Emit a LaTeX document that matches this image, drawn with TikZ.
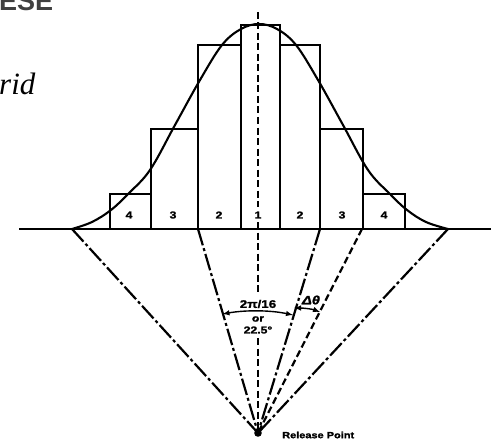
\documentclass[tikz,border=0pt]{standalone}
\usepackage{fontspec}
\setmainfont{Liberation Serif}
\setsansfont{Liberation Sans}
\newfontfamily\widefont[FakeStretch=1.22,FakeBold=1.5,BoldFont={Liberation Sans Bold},ItalicFont={Liberation Sans Bold Italic}]{Liberation Sans Bold}
\begin{document}
\begin{tikzpicture}[x=1pt,y=-1pt,
  bar/.style={line width=2pt,line join=miter},
  base/.style={line width=1.6pt},
  bell/.style={line width=2.1pt},
  dashdot/.style={line width=2.2pt,dash pattern=on 17pt off 3pt on 3pt off 3pt},
  dashline/.style={line width=2.2pt,dash pattern=on 7pt off 3.5pt},
  meas/.style={line width=1.4pt,<->,>=latex},
  num/.style={font=\widefont\fontsize{10}{11}\selectfont,inner sep=0pt},
  lab/.style={font=\widefont\fontsize{10}{12}\selectfont,inner sep=0pt}]
\useasboundingbox (0,0) rectangle (492,441);
\fill[white] (0,0) rectangle (492,441);
% clipped headings
\node[font=\sffamily\bfseries\fontsize{27}{27}\selectfont,text=black!75,inner sep=0pt,anchor=base west] (head) at (-1,10.5) {ESE};
\node[font=\itshape\fontsize{31}{31}\selectfont,inner sep=0pt,anchor=base west] (word) at (-1,95) {rid};
% named points
\coordinate (rp) at (258,433);
\coordinate (top) at (258,12);
\coordinate (bl) at (19,229);
\coordinate (br) at (491,229);
\coordinate (a1) at (72,229);
\coordinate (a2) at (198,229);
\coordinate (a3) at (320,229);
\coordinate (a4) at (362,229);
\coordinate (a5) at (448,229);
% histogram
\draw[bar] (110,229) -- (110,194) -- (151,194) -- (151,229);
\draw[bar] (151,194) -- (151,129) -- (198,129) -- (198,229);
\draw[bar] (198,129) -- (198,45) -- (241,45) -- (241,229);
\draw[bar] (241,45) -- (241,25) -- (280,25) -- (280,229);
\draw[bar] (280,45) -- (320,45) -- (320,229);
\draw[bar] (320,129) -- (363,129) -- (363,229);
\draw[bar] (363,194) -- (405,194) -- (405,229);
\draw[base] (bl) -- (br);
% bell curve
\draw[bell] plot[smooth,tension=0.6] coordinates {(72,229) (92,222) (111,210) (128,194) (150,170) (175,125) (200,80) (222,45) (241,29) (259,24) (277,29) (296,45) (318,80) (343,125) (368,170) (390,194) (407,210) (426,222) (448,229)};
% rays
\draw[dashdot] (a1) -- (rp);
\draw[dashdot] (a2) -- (rp);
\draw[dashdot] (a3) -- (rp);
\draw[dashdot] (a5) -- (rp);
\draw[dashline] (a4) -- (rp);
\draw[dashline] (top) -- (258,207);
\draw[dashline] (258,222) -- (258,295);
\draw[dashline] (258,338) -- (rp);
\fill (rp) circle (3.8pt);
% measures
\draw[meas] (222.5,314) .. controls (245,310) and (270,310) .. (293,315);
\draw[meas] (294,308) .. controls (303,308) and (312,309) .. (320,312);
% labels
\node[num] (n1) at (129,215) {4};
\node[num] (n2) at (173,215) {3};
\node[num] (n3) at (219,215) {2};
\node[num] (n4) at (258,215) {1};
\node[num] (n5) at (300,215) {2};
\node[num] (n6) at (342,215) {3};
\node[num] (n7) at (384,215) {4};
\node[lab,font=\widefont\fontsize{11}{13}\selectfont] (l1) at (258,304) {2π/16};
\node[lab] (l2) at (258,319) {or};
\node[lab] (l3) at (258,330) {22.5°};
\node[lab,font=\widefont\itshape\fontsize{12}{13}\selectfont] (l4) at (311,300) {Δθ};
\node[lab,font=\widefont\fontsize{9}{11}\selectfont,anchor=west] (l5) at (282,435) {Release Point};
\end{tikzpicture}
\end{document}
